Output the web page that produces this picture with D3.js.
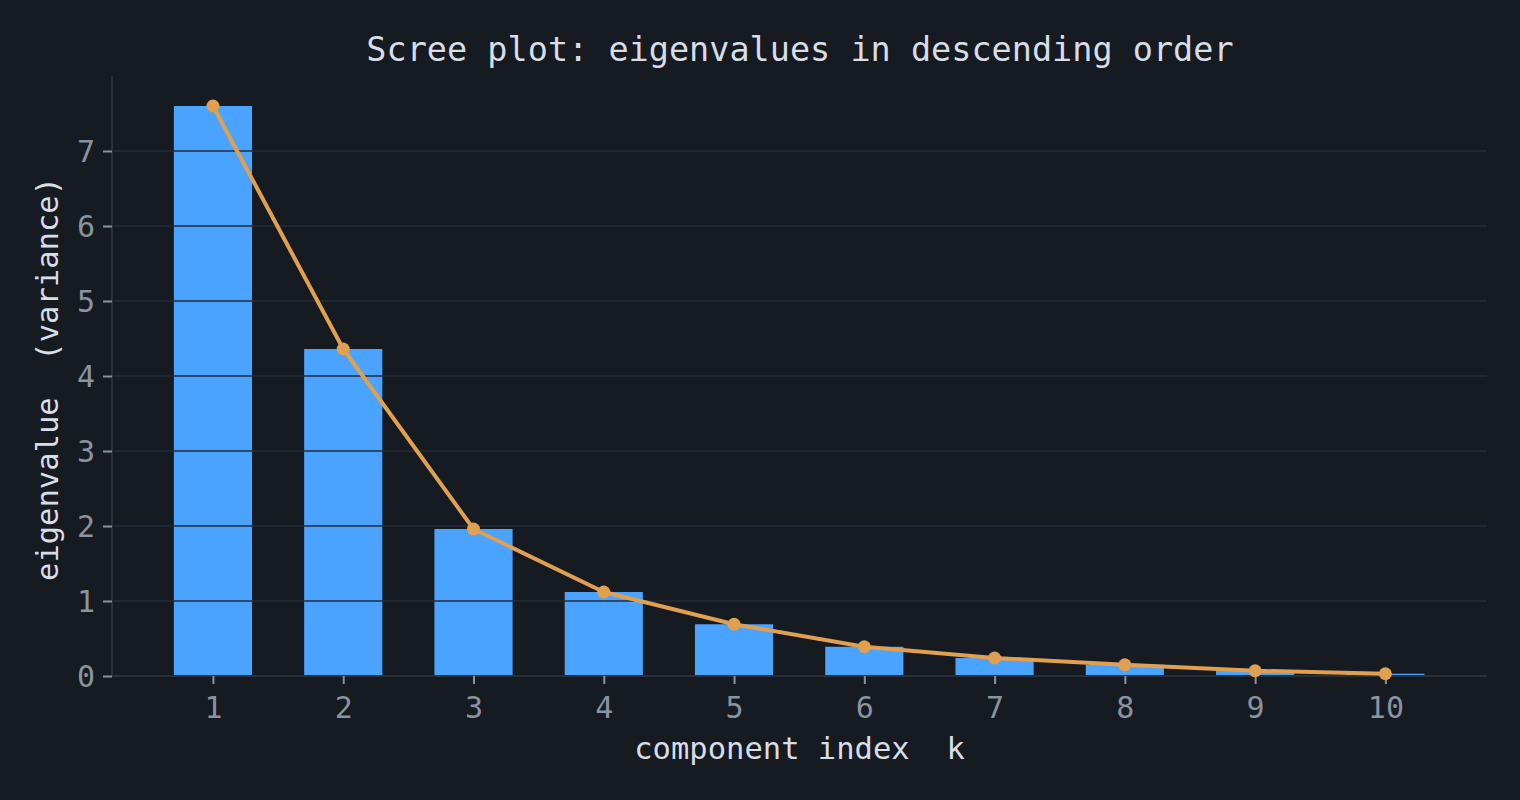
<!DOCTYPE html>
<html>
<head>
<meta charset="utf-8">
<script src="https://cdn.jsdelivr.net/npm/d3@7"></script>
<style>
  html, body { margin: 0; padding: 0; background: #161a21; }
  svg { display: block; font-family: "DejaVu Sans Mono", monospace; }
</style>
</head>
<body>
<svg width="1520" height="800"></svg>
<script>
// Scree plot data
const components = [1, 2, 3, 4, 5, 6, 7, 8, 9, 10];
const eigenvalues = [7.6, 4.36, 1.96, 1.12, 0.69, 0.39, 0.24, 0.15, 0.07, 0.03];
const yTicks = [0, 1, 2, 3, 4, 5, 6, 7];

const margin = { top: 76, right: 33, bottom: 124, left: 112 };
const width = 1520 - margin.left - margin.right;
const height = 800 - margin.top - margin.bottom;

const root = d3.select("svg");
root.append("rect").attr("width", 1520).attr("height", 800).attr("fill", "#161a21");

const svg = root.append("g")
    .attr("transform", `translate(${margin.left},${margin.top})`);

const x = d3.scaleLinear().domain([0.225, 10.78]).range([0, width]);
const y = d3.scaleLinear().domain([0, 8]).range([height, 0]);
const barW = x(1.6) - x(1);

// Bars
svg.selectAll(".bar")
    .data(components)
    .join("rect")
    .attr("class", "bar")
    .attr("x", (d) => x(d) - barW / 2)
    .attr("width", barW)
    .attr("y", (d, i) => y(eigenvalues[i]))
    .attr("height", (d, i) => height - y(eigenvalues[i]))
    .attr("fill", "#4aa3ff");

// Grid on top of bars
svg.append("g")
    .selectAll("line")
    .data(yTicks.filter(d => d > 0))
    .join("line")
    .attr("x1", 0)
    .attr("x2", width)
    .attr("y1", d => y(d))
    .attr("y2", d => y(d))
    .attr("stroke", "#262c38")
    .attr("stroke-opacity", 0.75)
    .attr("stroke-width", 2);

// Axes
const gx = svg.append("g")
    .attr("transform", `translate(0,${height})`)
    .call(d3.axisBottom(x).tickValues(components).tickSize(8).tickPadding(8).tickFormat(d3.format("d")));
const gy = svg.append("g")
    .call(d3.axisLeft(y).tickValues(yTicks).tickSize(9).tickPadding(8));

[gx, gy].forEach(g => {
    g.select(".domain").attr("stroke", "#2a303a").attr("stroke-width", 2);
    g.selectAll(".tick line").attr("stroke", "#8a93a0").attr("stroke-width", 2);
    g.selectAll(".tick text")
        .attr("fill", "#8a93a0")
        .style("font-size", "30px")
        .style("font-family", "DejaVu Sans Mono, monospace");
});
gy.select(".domain").attr("d", `M0,${height}V0`);
gx.select(".domain").attr("d", `M0,0H${width}`);
gx.selectAll(".tick text").attr("dy", "0.88em");
gy.selectAll(".tick text").attr("dy", "0.36em");

// Line + points
const line = d3.line()
    .x(d => x(d))
    .y((d, i) => y(eigenvalues[i]));

svg.append("path")
    .datum(components)
    .attr("d", line)
    .attr("fill", "none")
    .attr("stroke", "#e0a050")
    .attr("stroke-width", 4)
    .attr("stroke-linejoin", "round");

svg.selectAll(".pt")
    .data(components)
    .join("circle")
    .attr("class", "pt")
    .attr("cx", d => x(d))
    .attr("cy", (d, i) => y(eigenvalues[i]))
    .attr("r", 6.5)
    .attr("fill", "#e0a050");

// Labels
svg.append("text")
    .attr("x", width / 2)
    .attr("y", height + 83)
    .attr("text-anchor", "middle")
    .attr("fill", "#d8dde6")
    .style("font-size", "30.5px")
    .style("white-space", "pre")
    .text("component index  k");

svg.append("text")
    .attr("transform", "rotate(-90)")
    .attr("x", -height / 2 - 3)
    .attr("y", -54)
    .attr("text-anchor", "middle")
    .attr("fill", "#d8dde6")
    .style("font-size", "30.5px")
    .style("white-space", "pre")
    .text("eigenvalue  (variance)");

root.append("text")
    .attr("x", 800)
    .attr("y", 61)
    .attr("text-anchor", "middle")
    .attr("fill", "#d8dde6")
    .style("font-size", "33.5px")
    .text("Scree plot: eigenvalues in descending order");
</script>
</body>
</html>
